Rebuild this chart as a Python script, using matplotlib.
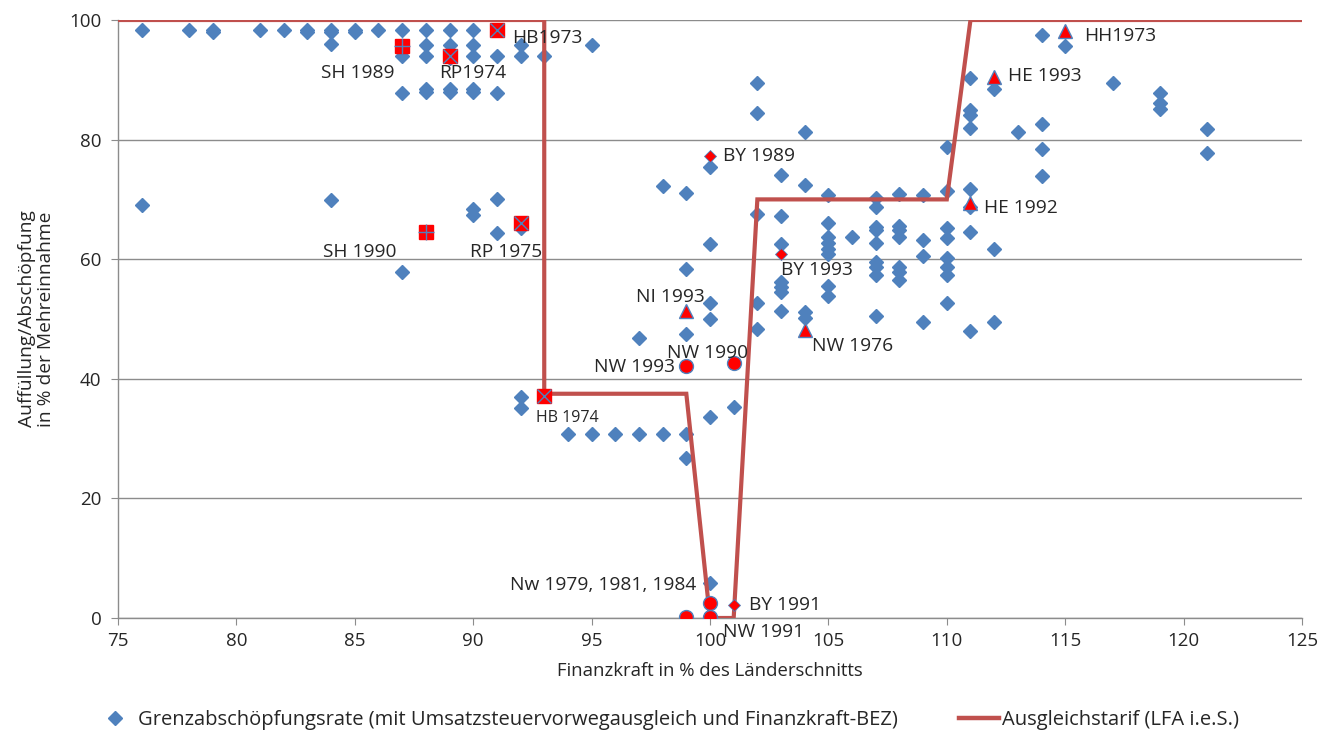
import matplotlib
matplotlib.use("Agg")
import matplotlib.pyplot as plt
from matplotlib.lines import Line2D

plt.rcParams['font.family'] = ['Open Sans', 'DejaVu Sans']

# ---- data -------------------------------------------------------------
# Grenzabschöpfungsrate (blue diamonds)
gx = [76, 78, 79, 79, 81, 82, 83, 83, 84, 84, 85, 85, 86, 87, 88, 89, 90, 91,
      84, 88, 89, 90, 92, 95,
      87, 88, 89, 90, 91, 92, 93,
      87, 88, 88, 89, 89, 90, 90, 91,
      76, 84, 90, 90, 91, 92, 91, 87, 92, 92,
      94, 95, 96, 97, 98, 99, 99, 100, 101, 100,
      102, 102, 104, 100, 98, 99, 103, 104, 105, 107, 107, 108, 102, 103, 105,
      106, 107, 107, 107, 108, 108, 108, 105, 105, 105, 105, 100, 103, 99, 103,
      103, 103, 105, 105, 107, 107, 107, 108, 108, 108, 107, 100, 100, 102, 102,
      103, 104, 104, 99, 97,
      114, 115, 111, 112, 117, 119, 119, 119, 111, 111, 111, 113, 114, 114, 114,
      121, 121, 110, 111, 111, 110, 109, 111, 112, 110, 110, 109, 109, 110, 110,
      110, 110, 109, 111, 112]
gy = [98.3, 98.3, 98.3, 98.0, 98.3, 98.3, 98.3, 98.0, 98.3, 98.0, 98.3, 98.0, 98.3, 98.3, 98.3, 98.3, 98.3, 98.3,
      96.0, 95.8, 95.8, 95.8, 95.8, 95.8,
      93.9, 93.9, 93.7, 93.9, 94.0, 93.9, 93.9,
      87.8, 88.0, 88.5, 88.0, 88.5, 88.0, 88.5, 87.8,
      69.1, 69.9, 68.4, 67.4, 70.1, 65.2, 64.4, 57.9, 37.0, 35.1,
      30.8, 30.8, 30.8, 30.8, 30.8, 30.8, 26.8, 33.6, 35.3, 5.9,
      89.5, 84.4, 81.3, 75.4, 72.2, 71.1, 74.1, 72.4, 70.7, 70.2, 68.7, 70.9, 67.6, 67.2, 66.0,
      63.7, 65.4, 64.9, 62.7, 65.5, 64.9, 63.7, 63.7, 62.7, 61.7, 60.8, 62.5, 62.5, 58.4, 56.2,
      55.4, 54.5, 55.5, 53.8, 59.5, 58.7, 57.4, 58.7, 57.9, 56.5, 50.5, 52.7, 50.0, 52.7, 48.3,
      51.3, 51.2, 50.2, 47.5, 46.8,
      97.5, 95.7, 90.3, 88.5, 89.5, 87.8, 86.1, 85.1, 85.0, 84.1, 81.9, 81.3, 82.6, 78.4, 73.9,
      81.8, 77.8, 78.8, 71.7, 68.8, 71.4, 70.7, 64.5, 61.7, 65.2, 63.5, 63.2, 60.5, 60.2, 58.7,
      57.4, 52.7, 49.5, 48.0, 49.5]

# Ausgleichstarif (LFA i.e.S.)
tx = [75, 93, 93, 99, 100, 101, 102, 110, 111, 125]
ty = [100, 100, 37.5, 37.5, 0, 0, 70, 70, 100, 100]

# highlighted Länder-years
sq_plus_x = [87, 88]
sq_plus_y = [95.6, 64.5]
sq_x_x = [89, 92, 91, 93]
sq_x_y = [94.0, 66.0, 98.4, 37.2]
red_d_x = [100, 103, 101]
red_d_y = [77.3, 60.9, 2.2]
tri_x = [99, 104, 112, 111, 115]
tri_y = [51.3, 48.2, 90.5, 69.4, 98.2]
circ_x = [99, 101, 100, 99, 100]
circ_y = [42.1, 42.7, 2.5, 0.2, 0.2]

labels = ["SH 1989", "RP1974", "HB1973", "SH 1990", "RP 1975", "HB 1974",
          "BY 1989", "BY 1993", "NI 1993", "NW 1976", "NW 1993", "NW 1990",
          "Nw 1979, 1981, 1984", "BY 1991", "NW 1991", "HE 1993", "HE 1992", "HH1973"]
label_x = [87, 89, 91, 88, 92, 93, 100, 103, 99, 104, 99, 101, 100, 101, 100, 112, 111, 115]
label_y = [95.6, 94.0, 98.4, 64.5, 66.0, 37.2, 77.3, 60.9, 51.3, 48.2, 42.1, 42.7, 2.5, 2.2, 0.2, 90.5, 69.4, 98.2]

xticks = [75, 80, 85, 90, 95, 100, 105, 110, 115, 120, 125]
yticks = [0, 20, 40, 60, 80, 100]

# ---- styling / layout ------------------------------------------------------
BLUE = '#4F81BD'
RED_LINE = '#C0504D'
GRID = '#8C8C8C'
TXT = '#262626'

# label offsets in pixels (dx, dy; dy positive = up) and alignment
label_off = [(-44, -27, 'center'), (23, -17, 'center'), (15, -8, 'left'),
             (-66, -20, 'center'), (-14, -29, 'center'), (-8, -22, 'left'),
             (13, 0, 'left'), (0, -16, 'left'), (-16, 14, 'center'),
             (7, -16, 'left'), (-11, -1, 'right'), (-26, 10, 'center'),
             (-14, 18, 'right'), (15, 0, 'left'), (13, -15, 'left'),
             (14, 1, 'left'), (14, -5, 'left'), (19, -5, 'left')]

fig = plt.figure(figsize=(13.29, 7.35), dpi=100)
ax = fig.add_axes([118 / 1329, 1 - 618 / 735, (1302 - 118) / 1329, (618 - 20) / 735])

ax.set_xlim(75, 125)
ax.set_ylim(0, 100)
ax.set_xticks(xticks)
ax.set_yticks(yticks)
ax.yaxis.grid(True, color=GRID, linewidth=1.0)
ax.set_axisbelow(True)
for s in ['top', 'right']:
    ax.spines[s].set_visible(False)
for s in ['left', 'bottom']:
    ax.spines[s].set_color(GRID)
    ax.spines[s].set_linewidth(1.0)
ax.tick_params(axis='both', colors=GRID, labelcolor=TXT, labelsize=13.5, direction='out', length=5)
ax.tick_params(axis='y', pad=7)
ax.tick_params(axis='x', pad=5)

ax.plot(gx, gy, linestyle='none', marker='D', ms=7.3, color=BLUE, mec=BLUE, zorder=3)
ax.plot(tx, ty, color=RED_LINE, linewidth=3.0, zorder=4, solid_joinstyle='miter')

ax.plot(sq_plus_x, sq_plus_y, linestyle='none', marker='s', ms=10, color='#FF0000', mec='#FF0000', zorder=5)
ax.plot(sq_plus_x, sq_plus_y, linestyle='none', marker='+', ms=11, color=BLUE, mew=1.0, zorder=6)
ax.plot(sq_x_x, sq_x_y, linestyle='none', marker='s', ms=10, color='#FF0000', mec='#FF0000', zorder=5)
ax.plot(sq_x_x, sq_x_y, linestyle='none', marker='x', ms=10, color=BLUE, mew=1.0, zorder=6)
ax.plot(red_d_x, red_d_y, linestyle='none', marker='D', ms=6, color='#FF0000', mec=BLUE, mew=0.6, zorder=5)
ax.plot(tri_x, tri_y, linestyle='none', marker='^', ms=10, color='#FF0000', mec=BLUE, mew=1.0, zorder=5)
ax.plot(circ_x, circ_y, linestyle='none', marker='o', ms=10, color='#FF0000', mec=BLUE, mew=1.0, zorder=5)

for i, lab in enumerate(labels):
    dx, dy, ha = label_off[i]
    fs = 11.5 if lab == "HB 1974" else 13.8
    ax.annotate(lab, (label_x[i], label_y[i]), xytext=(dx, dy), textcoords='offset pixels',
                ha=ha, va='center', fontsize=fs, color=TXT, zorder=7, annotation_clip=False)

ax.set_xlabel("Finanzkraft in % des Länderschnitts", fontsize=13.3, color=TXT, labelpad=9)
ax.set_ylabel("Auffüllung/Abschöpfung\nin % der Mehreinnahme", fontsize=13.8, color=TXT, labelpad=10,
              linespacing=1.05)

handles = [Line2D([], [], linestyle='none', marker='D', ms=7.3, color=BLUE),
           Line2D([], [], color=RED_LINE, linewidth=3.2)]
leg = fig.legend(handles, ["Grenzabschöpfungsrate (mit Umsatzsteuervorwegausgleich und Finanzkraft-BEZ)",
                           "Ausgleichstarif (LFA i.e.S.)"],
                 loc='center left', bbox_to_anchor=(95 / 1329, 1 - 720 / 735), ncol=2, frameon=False,
                 fontsize=14.5, handlelength=2.0, handletextpad=0.15, columnspacing=3.0,
                 borderpad=0, borderaxespad=0, labelcolor=TXT)

fig.savefig("out.png", dpi=100, facecolor='white')
